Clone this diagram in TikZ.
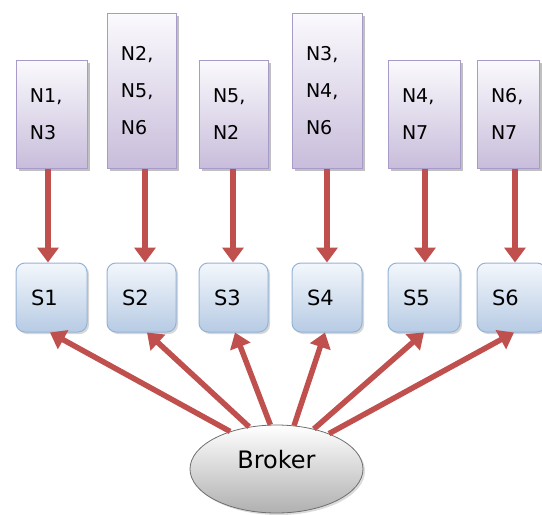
\documentclass[tikz,border=0pt]{standalone}
\usepackage{fontspec}
\setmainfont{DejaVu Sans}
\usetikzlibrary{arrows.meta,shapes.geometric,shadows}

\definecolor{arrowred}{HTML}{C0504D}
\definecolor{lavtop}{HTML}{FBFAFD}
\definecolor{lavbot}{HTML}{C8BDDB}
\definecolor{lavline}{HTML}{A99BC9}
\definecolor{bluetop}{HTML}{F3F7FC}
\definecolor{bluebot}{HTML}{B7CBE4}
\definecolor{blueline}{HTML}{95B3D7}
\definecolor{graybot}{HTML}{B0B0B0}
\definecolor{grayline}{HTML}{6E6E6E}

\tikzset{
  nbox/.style n args={2}{rectangle, draw=lavline, line width=1pt,
    top color=lavtop, bottom color=lavbot,
    inner xsep=14pt, inner ysep=0pt, text width=#1, minimum height=#2,
    align=left, font=\fontsize{19}{37}\selectfont,
    drop shadow={shadow xshift=3pt, shadow yshift=-3pt, fill=black!45, opacity=.55}},
  sbox/.style={rectangle, rounded corners=9pt, draw=blueline, line width=1pt,
    top color=bluetop, bottom color=bluebot,
    inner xsep=15pt, inner ysep=0pt, text width=#1, minimum height=69pt,
    align=left, font=\fontsize{21}{24}\selectfont,
    drop shadow={shadow xshift=2pt, shadow yshift=-2pt, fill=black!35, opacity=.45}},
  brokerstyle/.style={ellipse, draw=grayline, line width=0.8pt,
    top color=white, bottom color=graybot,
    minimum width=173pt, minimum height=88pt, inner sep=0pt,
    drop shadow={shadow xshift=2pt, shadow yshift=-2pt, fill=black!35, opacity=.4}},
  arr/.style={draw=arrowred, line width=5.5pt,
    -{Triangle[width=21pt,length=15pt]}, arrowred},
}

\begin{document}
\begin{tikzpicture}[x=1pt,y=-1pt]
\useasboundingbox (0,0) rectangle (542,515);

% upper boxes with node lists
\node[nbox={43pt}{108pt}] (t1) at (51.5,114) {N1,\\N3};
\node[nbox={41pt}{155pt}] (t2) at (141.5,90.5) {N2,\\N5,\\N6};
\node[nbox={41pt}{108pt}] (t3) at (233.5,114) {N5,\\N2};
\node[nbox={42pt}{155pt}] (t4) at (327,90.5) {N3,\\N4,\\N6};
\node[nbox={44pt}{108pt}] (t5) at (424,114) {N4,\\N7};
\node[nbox={34pt}{108pt}] (t6) at (508,114) {N6,\\N7};

% subscriber boxes
\node[sbox=41pt] (s1) at (51.5,297.5) {S1};
\node[sbox=39pt] (s2) at (141.5,297.5) {S2};
\node[sbox=39pt] (s3) at (233.5,297.5) {S3};
\node[sbox=40pt] (s4) at (327,297.5) {S4};
\node[sbox=42pt] (s5) at (424,297.5) {S5};
\node[sbox=39pt] (s6) at (511.5,297.5) {S6};

% broker
\node[brokerstyle, label={[yshift=9pt, font=\fontsize{24}{27}\selectfont]center:Broker}] (broker) at (276.5,469) {};

% lists feeding the subscribers
\draw[arr] ([xshift=-3.5pt]t1.south) -- ([xshift=-3.5pt]t1.south |- s1.north);
\draw[arr] ([xshift=3.5pt]t2.south) -- ([xshift=3.5pt]t2.south |- s2.north);
\draw[arr] ([xshift=-0.5pt]t3.south) -- ([xshift=-0.5pt]t3.south |- s3.north);
\draw[arr] (t4.south) -- (t4.south |- s4.north);
\draw[arr] ([xshift=1pt]t5.south) -- ([xshift=1pt]t5.south |- s5.north);
\draw[arr] ([xshift=7pt]t6.south) -- ([xshift=7pt]t6.south |- s6.north);

% broker fan-out
\draw[arr] (broker.141) -- ([xshift=-1.5pt]s1.south);
\draw[arr] (broker.123) -- ([xshift=5.5pt]s2.south);
\draw[arr] (broker.98) -- ([xshift=1.5pt]s3.south);
\draw[arr] (broker.68) -- ([xshift=-2pt]s4.south);
\draw[arr] (broker.47) -- (s5.south);
\draw[arr] (broker.34) -- ([xshift=2.5pt]s6.south);
\end{tikzpicture}
\end{document}
